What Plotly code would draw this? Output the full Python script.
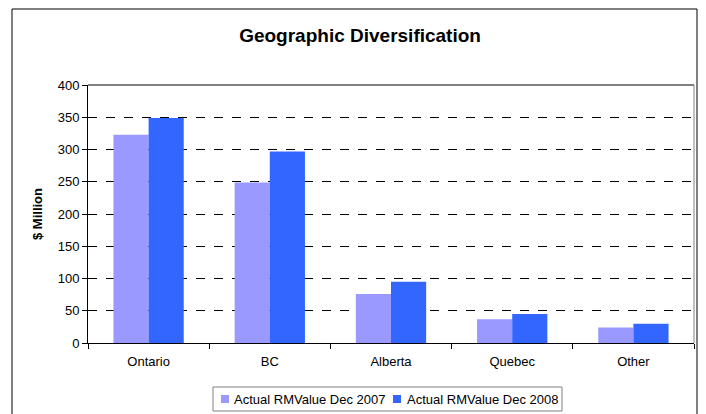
import plotly.graph_objects as go

categories = ["Ontario", "BC", "Alberta", "Quebec", "Other"]
values_2007 = [323, 249, 76, 37, 24]
values_2008 = [349, 297, 95, 45, 30]
series_names = ["Actual RMValue Dec 2007", "Actual RMValue Dec 2008"]
series_colors = ["#9999FF", "#3366FF"]
y_ticks = [0, 50, 100, 150, 200, 250, 300, 350, 400]

W, H = 706, 414
L, R, T, B = 88, 12, 85, 71

fig = go.Figure()
for name, vals, col in zip(series_names, [values_2007, values_2008], series_colors):
    fig.add_trace(go.Bar(x=categories, y=vals, name=name,
                         marker=dict(color=col, line=dict(width=0))))

font = "Arial, Liberation Sans, sans-serif"
pw = W - L - R
ph = H - T - B

def px_x(px):
    return (px - L) / pw

def px_y(py):
    return (H - B - py) / ph

fig.update_layout(
    width=W, height=H,
    margin=dict(l=L, r=R, t=T, b=B, autoexpand=False),
    paper_bgcolor="white", plot_bgcolor="white",
    barmode="group", bargap=0.42, bargroupgap=0,
    title=dict(text="<b>Geographic Diversification</b>", x=0.51, xanchor="center",
               y=1 - 35 / H, yanchor="middle",
               font=dict(family=font, size=19, color="black")),
    font=dict(family=font, size=13, color="black"),
    showlegend=False,
    xaxis=dict(showline=True, linecolor="black", linewidth=1, ticks="outside",
               tickson="boundaries", ticklen=5, tickcolor="black",
               ticklabelstandoff=6,
               tickfont=dict(family=font, size=13, color="black"), showgrid=False,
               automargin=False),
    yaxis=dict(range=[0, 400], tickvals=y_ticks, showline=True, linecolor="black",
               linewidth=1, ticks="outside", ticklen=5, tickcolor="black",
               showgrid=True, gridcolor="black", griddash="dash", gridwidth=1,
               zeroline=False, automargin=False,
               tickfont=dict(family=font, size=13, color="black"),
               title=dict(text="<b>$ Million</b>", standoff=12,
                          font=dict(family=font, size=13, color="black"))),
)

# plot-area border (top and right, gray)
fig.add_shape(type="line", xref="paper", yref="paper", x0=0, x1=1, y0=1, y1=1,
              line=dict(color="#808080", width=2))
fig.add_shape(type="line", xref="paper", yref="paper", x0=1, x1=1, y0=0, y1=1,
              line=dict(color="#808080", width=1))
# outer chart border
fig.add_shape(type="rect", xref="paper", yref="paper",
              x0=px_x(12), x1=px_x(697), y0=px_y(420), y1=px_y(9),
              line=dict(color="black", width=1), fillcolor="rgba(0,0,0,0)", layer="below")

# legend box (drawn manually for compact layout)
fig.add_shape(type="rect", xref="paper", yref="paper",
              x0=px_x(213), x1=px_x(562), y0=px_y(411), y1=px_y(387),
              line=dict(color="#808080", width=1), fillcolor="white")
legend_items = [(221, 232), (393, 405)]
for (sq_x, tx_x), name, col in zip(legend_items, series_names, series_colors):
    fig.add_shape(type="rect", xref="paper", yref="paper",
                  x0=px_x(sq_x), x1=px_x(sq_x + 8), y0=px_y(403), y1=px_y(395),
                  line=dict(width=0), fillcolor=col)
    fig.add_annotation(xref="paper", yref="paper", x=px_x(tx_x), y=px_y(399),
                       xanchor="left", yanchor="middle", text=name, showarrow=False,
                       font=dict(family=font, size=13, color="black"))

fig.write_html("out.html")
